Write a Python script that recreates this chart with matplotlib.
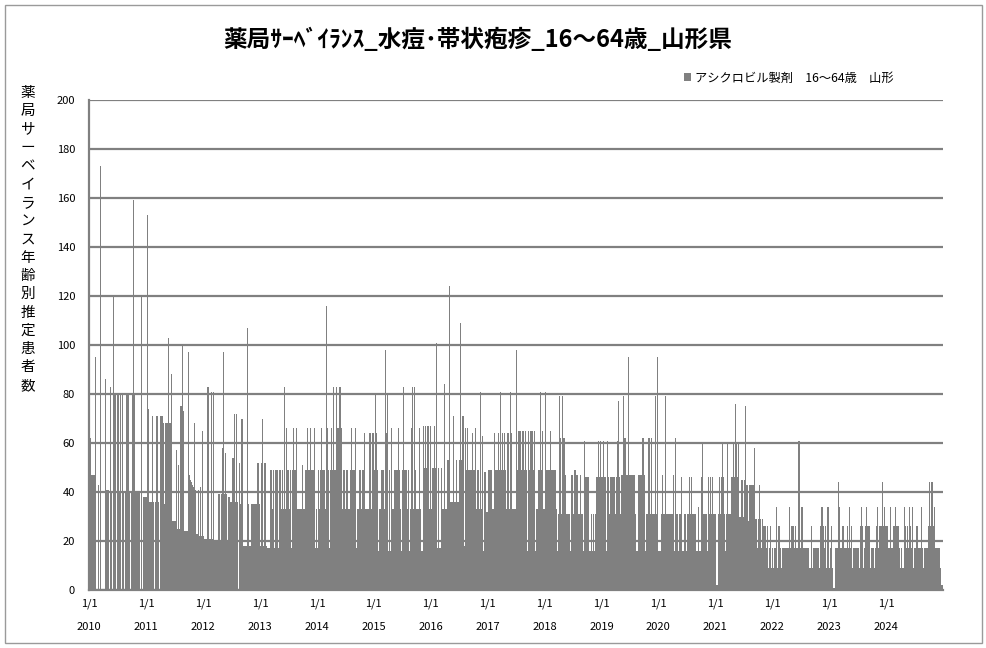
import datetime as dt
import matplotlib
matplotlib.use("Agg")
import matplotlib.pyplot as plt
from matplotlib.patches import Rectangle, Patch
from matplotlib.transforms import blended_transform_factory

plt.rcParams['font.family'] = ['Noto Sans CJK JP', 'DejaVu Sans']

# ---------------- data (weekly estimated patients) ----------------
years = list(range(2010, 2025))

w2010 = [62, 62, 47, 47, 47, 95, 0, 0, 43, 0, 173, 0, 0, 0, 86, 41, 41, 41, 0, 83,
         40, 0, 120, 80, 0, 80, 80, 40, 80, 0, 80, 40, 0, 40, 80, 80, 40, 0, 40, 80,
         159, 80, 40, 40, 40, 40, 0, 120, 0, 38, 38, 38]
w2011 = [38, 153, 74, 36, 36, 71, 36, 0, 36, 71, 71, 36, 0, 71, 71, 68, 35, 68, 68, 68,
         103, 68, 68, 88, 28, 28, 28, 57, 25, 51, 25, 75, 75, 100, 73, 24, 24, 24, 97, 47,
         45, 44, 43, 42, 68, 41, 23, 41, 22, 42, 22, 65]
w2012 = [22, 21, 21, 21, 83, 21, 21, 81, 21, 81, 20, 20, 20, 20, 39, 20, 39, 58, 97, 39,
         56, 39, 20, 38, 38, 36, 54, 54, 72, 36, 72, 36, 0, 52, 35, 70, 18, 18, 18, 18,
         107, 35, 18, 18, 35, 35, 35, 35, 35, 52, 52, 35]
w2013 = [18, 52, 70, 18, 52, 18, 17, 17, 17, 49, 49, 33, 49, 17, 49, 49, 17, 49, 49, 33,
         49, 33, 83, 33, 66, 49, 33, 49, 17, 49, 66, 49, 49, 66, 33, 33, 33, 33, 51, 33,
         33, 49, 49, 66, 49, 49, 66, 49, 49, 66, 17, 33]
w2014 = [17, 49, 33, 49, 66, 49, 49, 33, 116, 66, 49, 17, 49, 66, 49, 83, 49, 83, 66, 66,
         83, 83, 66, 33, 49, 49, 33, 49, 33, 33, 49, 66, 49, 49, 49, 66, 17, 33, 49, 49,
         33, 49, 49, 64, 33, 33, 33, 33, 64, 33, 64, 64]
w2015 = [49, 80, 64, 49, 16, 33, 33, 49, 49, 33, 98, 64, 80, 16, 49, 16, 66, 33, 49, 49,
         49, 49, 66, 49, 33, 16, 49, 83, 49, 49, 33, 49, 16, 33, 66, 83, 33, 83, 49, 33,
         33, 66, 33, 16, 16, 67, 50, 67, 50, 67, 33, 67]
w2016 = [33, 50, 50, 67, 50, 101, 17, 50, 17, 50, 33, 33, 84, 33, 33, 53, 53, 124, 36, 36,
         71, 36, 36, 53, 36, 36, 53, 109, 53, 71, 18, 66, 49, 66, 49, 49, 49, 49, 64, 49,
         66, 33, 49, 49, 33, 81, 33, 63, 16, 48, 32, 32]
w2017 = [49, 49, 49, 49, 33, 33, 64, 49, 49, 64, 49, 81, 49, 64, 49, 64, 49, 33, 64, 33,
         81, 64, 33, 33, 33, 33, 98, 49, 65, 65, 49, 65, 65, 49, 65, 49, 16, 65, 49, 65,
         65, 49, 65, 16, 33, 33, 49, 49, 81, 49, 65, 33]
w2018 = [81, 49, 49, 49, 49, 65, 49, 49, 49, 49, 33, 16, 31, 79, 62, 31, 79, 62, 62, 47,
         31, 31, 31, 16, 47, 47, 31, 49, 49, 47, 47, 31, 47, 31, 31, 16, 61, 46, 46, 46,
         46, 16, 31, 16, 31, 16, 31, 46, 46, 61, 46, 61]
w2019 = [46, 61, 46, 46, 16, 61, 46, 31, 46, 46, 46, 46, 31, 46, 61, 77, 46, 31, 47, 47,
         79, 62, 47, 47, 95, 47, 47, 47, 47, 47, 47, 31, 16, 47, 47, 47, 47, 62, 62, 47,
         16, 31, 31, 62, 31, 62, 31, 31, 31, 79, 31, 95]
w2020 = [16, 16, 31, 47, 31, 31, 79, 31, 31, 31, 31, 31, 31, 47, 16, 62, 31, 31, 16, 31,
         31, 46, 16, 31, 31, 16, 31, 31, 46, 31, 46, 31, 31, 31, 16, 16, 34, 16, 16, 46,
         60, 31, 31, 31, 16, 46, 31, 46, 31, 46, 31, 31]
w2021 = [31, 2, 31, 46, 31, 46, 60, 46, 31, 16, 31, 60, 31, 31, 46, 46, 60, 46, 76, 60,
         46, 60, 30, 45, 45, 30, 45, 75, 43, 43, 28, 43, 43, 43, 43, 58, 29, 29, 17, 29,
         43, 29, 17, 29, 26, 26, 17, 26, 9, 17, 26, 9]
w2022 = [17, 9, 17, 34, 9, 26, 26, 17, 9, 17, 17, 17, 17, 17, 17, 34, 17, 26, 26, 26,
         17, 26, 17, 17, 61, 17, 34, 34, 17, 17, 17, 17, 17, 17, 9, 26, 9, 17, 17, 17,
         17, 17, 17, 9, 26, 34, 26, 17, 26, 9, 34, 34]
w2023 = [9, 17, 26, 9, 1, 17, 17, 17, 44, 34, 17, 17, 26, 26, 17, 17, 26, 17, 34, 17,
         26, 9, 17, 17, 17, 17, 17, 9, 26, 34, 26, 9, 17, 26, 34, 26, 26, 9, 17, 17,
         17, 9, 17, 26, 34, 17, 26, 26, 44, 26, 34, 26]
w2024 = [26, 26, 17, 17, 34, 17, 26, 26, 34, 26, 26, 26, 17, 9, 17, 9, 34, 26, 17, 26,
         17, 34, 26, 17, 34, 9, 17, 26, 26, 17, 17, 17, 34, 17, 9, 17, 17, 17, 26, 44,
         26, 44, 44, 26, 34, 17, 17, 17, 17, 9, 2, 2]

weekly = [w2010, w2011, w2012, w2013, w2014, w2015, w2016, w2017, w2018, w2019,
          w2020, w2021, w2022, w2023, w2024]

title = '薬局ｻｰﾍﾞｲﾗﾝｽ_水痘･帯状疱疹_16～64歳_山形県'
series_label = 'アシクロビル製剤　16～64歳　山形'
ylabel = '薬局サーベイランス年齢別推定患者数'
xtick_label = '1/1'

# ---------------- figure ----------------
W, H = 987, 648
fig = plt.figure(figsize=(W / 100, H / 100), dpi=100)
fig.patch.set_facecolor('white')
fig.patches.append(Rectangle((5 / W, 5 / H), 977 / W, 638 / H, transform=fig.transFigure,
                             fill=False, edgecolor='#9a9a9a', linewidth=1.0))

L, R, T, B = 89, 943, 100, 590
ax = fig.add_axes([L / W, 1 - B / H, (R - L) / W, (B - T) / H])

origin = dt.date(2010, 1, 1)
xs, hs, ws = [], [], []
for yr, vals in zip(years, weekly):
    start = (dt.date(yr, 1, 1) - origin).days
    ylen = (dt.date(yr + 1, 1, 1) - dt.date(yr, 1, 1)).days
    step = ylen / len(vals)
    for i, v in enumerate(vals):
        xs.append(start + i * step)
        hs.append(v)
        ws.append(step)

gray = '#808080'
ax.bar(xs, hs, width=ws, align='edge', color=gray, linewidth=0,
       antialiased=False, zorder=3)

end = (dt.date(2025, 1, 1) - origin).days
ax.set_xlim(-2, end)
ax.set_ylim(0, 200)
ax.set_yticks(range(0, 201, 20))
ax.grid(axis='y', color=gray, linewidth=1.6, zorder=1)
ax.set_axisbelow(True)
for s in ['top', 'right']:
    ax.spines[s].set_visible(False)
ax.spines['left'].set_color(gray)
ax.spines['left'].set_linewidth(1.6)
ax.spines['bottom'].set_color(gray)
ax.spines['bottom'].set_linewidth(1.6)

tick_pos = [(dt.date(y, 1, 1) - origin).days for y in years]
ax.set_xticks(tick_pos)
ax.set_xticklabels([xtick_label] * len(years))
ax.tick_params(axis='x', length=0, pad=6, labelsize=8)
ax.tick_params(axis='y', length=0, pad=10, labelsize=8)

trans = blended_transform_factory(ax.transData, ax.transAxes)
for p, y in zip(tick_pos, years):
    ax.text(p, -(627 - B) / (B - T), str(y), transform=trans, ha='center', va='center',
            fontsize=8)

fig.text(478 / W, 1 - 40 / H, title, ha='center', va='center', fontsize=17,
         fontweight='bold')

y0, pitch = 93, 18.3
for i, ch in enumerate(ylabel):
    fig.text(28 / W, 1 - (y0 + i * pitch) / H, ch, ha='center', va='center', fontsize=10.5)

fig.legend(handles=[Patch(facecolor=gray, edgecolor='none')], labels=[series_label],
           loc='center left', bbox_to_anchor=(684 / W, 1 - 78 / H), frameon=False,
           fontsize=8.8, handlelength=0.6, handleheight=0.6, handletextpad=0.3,
           borderpad=0, borderaxespad=0)

fig.savefig('out.png', dpi=100)
